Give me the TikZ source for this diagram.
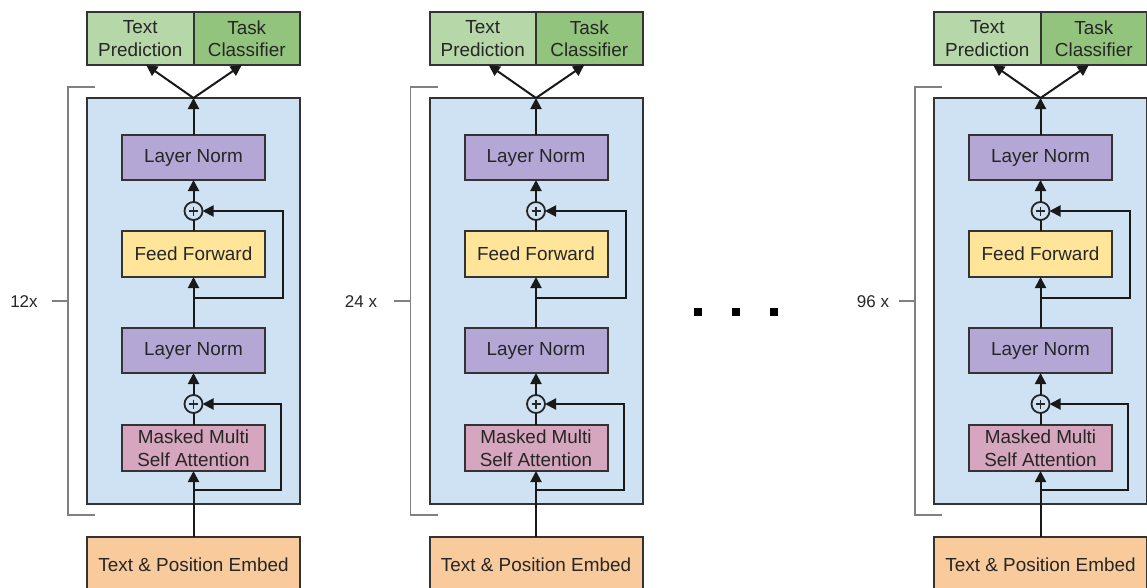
\documentclass[tikz,border=0pt]{standalone}
\usepackage{fontspec}
\setmainfont{Liberation Sans}
\usetikzlibrary{positioning, arrows.meta}
\definecolor{blockblue}{HTML}{CFE2F3}
\definecolor{predgreen}{HTML}{B6D7A8}
\definecolor{taskgreen}{HTML}{93C47D}
\definecolor{normpurple}{HTML}{B4A7D6}
\definecolor{ffyellow}{HTML}{FFE599}
\definecolor{attnpink}{HTML}{D5A6BD}
\definecolor{embedorange}{HTML}{F9CB9C}
\tikzstyle{box} = [rectangle, draw=black!80, line width=2pt, inner sep=0pt, outer sep=0pt, text=black!85, align=center, font=\fontsize{18.9}{22.5}\selectfont]
\tikzstyle{block} = [box, minimum width=213pt, minimum height=406pt, fill=blockblue]
\tikzstyle{predict} = [box, minimum width=106.5pt, minimum height=53pt, fill=predgreen]
\tikzstyle{classify} = [box, minimum width=106.5pt, minimum height=53pt, fill=taskgreen]
\tikzstyle{norm} = [box, minimum width=143pt, minimum height=45pt, fill=normpurple]
\tikzstyle{ffwd} = [box, minimum width=143pt, minimum height=46pt, fill=ffyellow]
\tikzstyle{attn} = [box, minimum width=143pt, minimum height=46pt, fill=attnpink]
\tikzstyle{embed} = [box, minimum width=213pt, minimum height=55pt, fill=embedorange]
\tikzstyle{plus} = [circle, draw=black!85, line width=1.8pt, minimum size=18pt, inner sep=0pt, outer sep=0pt,
  path picture={\draw[line width=1.5pt] ([yshift=-4.5pt]path picture bounding box.north) -- ([yshift=4.5pt]path picture bounding box.south);
                \draw[line width=1.5pt] ([xshift=4.5pt]path picture bounding box.west) -- ([xshift=-4.5pt]path picture bounding box.east);}]
\tikzstyle{arrow} = [line width=2pt, draw=black!90, -{Triangle[length=11pt, width=11pt]}]
\tikzstyle{link} = [line width=2pt, draw=black!90]
\tikzstyle{bracket} = [line width=1.2pt, draw=gray]
\tikzstyle{count} = [text=black!85, font=\fontsize{17}{20}\selectfont]
\tikzstyle{dotbox} = [rectangle, fill=black, minimum size=8pt, inner sep=0pt]

\begin{document}
\begin{tikzpicture}[x=1pt, y=1pt]

\useasboundingbox (0,0) rectangle (1147,-587);

% first column
\node (Ba) [block] at (193.5,-301) {};
\node (TPa) [predict, above left=33pt and 0pt of Ba.north] {Text\\Prediction};
\node (TCa) [classify, right=0pt of TPa] {Task\\Classifier};
\node (La1) [norm, below=37pt of Ba.north] {Layer Norm};
\node (Pa1) [plus, below=22pt of La1] {};
\node (Fa) [ffwd, below=11pt of Pa1] {Feed Forward};
\node (La2) [norm, below=51pt of Fa] {Layer Norm};
\node (Pa2) [plus, below=22pt of La2] {};
\node (Aa) [attn, below=12pt of Pa2] {Masked Multi\\Self Attention};
\node (Ea) [embed, below=66pt of Aa] {Text \& Position Embed};
\coordinate [below=21pt of Fa] (Sa1);
\coordinate [below=19pt of Aa] (Sa2);

\draw [arrow] (Ea) -- (Aa);
\draw [link] (Aa) -- (Pa2);
\draw [arrow] (Pa2) -- (La2);
\draw [arrow] (La2) -- (Fa);
\draw [link] (Fa) -- (Pa1);
\draw [arrow] (Pa1) -- (La1);
\draw [arrow] (La1) -- (Ba.north);
\draw [arrow] (Ba.north) -- ([xshift=6pt]TPa.south);
\draw [arrow] (Ba.north) -- ([xshift=-5pt]TCa.south);
\draw [arrow] (Sa1) -- ++(89.5,0) |- (Pa1.east);
\draw [arrow] (Sa2) -- ++(87.5,0) |- (Pa2.east);

\draw [bracket] (95,-87) -- (68,-87) -- (68,-515) -- (95,-515);
\draw [bracket] (68,-301) -- (52,-301);
\node (Na) [count] at (24,-302) {12x};

% second column
\node (Bb) [block] at (536,-301) {};
\node (TPb) [predict, above left=33pt and 0pt of Bb.north] {Text\\Prediction};
\node (TCb) [classify, right=0pt of TPb] {Task\\Classifier};
\node (Lb1) [norm, below=37pt of Bb.north] {Layer Norm};
\node (Pb1) [plus, below=22pt of Lb1] {};
\node (Fb) [ffwd, below=11pt of Pb1] {Feed Forward};
\node (Lb2) [norm, below=51pt of Fb] {Layer Norm};
\node (Pb2) [plus, below=22pt of Lb2] {};
\node (Ab) [attn, below=12pt of Pb2] {Masked Multi\\Self Attention};
\node (Eb) [embed, below=66pt of Ab] {Text \& Position Embed};
\coordinate [below=21pt of Fb] (Sb1);
\coordinate [below=19pt of Ab] (Sb2);

\draw [arrow] (Eb) -- (Ab);
\draw [link] (Ab) -- (Pb2);
\draw [arrow] (Pb2) -- (Lb2);
\draw [arrow] (Lb2) -- (Fb);
\draw [link] (Fb) -- (Pb1);
\draw [arrow] (Pb1) -- (Lb1);
\draw [arrow] (Lb1) -- (Bb.north);
\draw [arrow] (Bb.north) -- ([xshift=6pt]TPb.south);
\draw [arrow] (Bb.north) -- ([xshift=-5pt]TCb.south);
\draw [arrow] (Sb1) -- ++(89.5,0) |- (Pb1.east);
\draw [arrow] (Sb2) -- ++(87.5,0) |- (Pb2.east);

\draw [bracket] (437.5,-87) -- (410.5,-87) -- (410.5,-515) -- (437.5,-515);
\draw [bracket] (410.5,-301) -- (394,-301);
\node (Nb) [count] at (361,-302) {24 x};

% dots between the columns
\node (D1) [dotbox] at (698,-312) {};
\node (D2) [dotbox] at (736,-312) {};
\node (D3) [dotbox] at (774,-312) {};

% third column
\node (Bc) [block] at (1040.5,-301) {};
\node (TPc) [predict, above left=33pt and 0pt of Bc.north] {Text\\Prediction};
\node (TCc) [classify, right=0pt of TPc] {Task\\Classifier};
\node (Lc1) [norm, below=37pt of Bc.north] {Layer Norm};
\node (Pc1) [plus, below=22pt of Lc1] {};
\node (Fc) [ffwd, below=11pt of Pc1] {Feed Forward};
\node (Lc2) [norm, below=51pt of Fc] {Layer Norm};
\node (Pc2) [plus, below=22pt of Lc2] {};
\node (Ac) [attn, below=12pt of Pc2] {Masked Multi\\Self Attention};
\node (Ec) [embed, below=66pt of Ac] {Text \& Position Embed};
\coordinate [below=21pt of Fc] (Sc1);
\coordinate [below=19pt of Ac] (Sc2);

\draw [arrow] (Ec) -- (Ac);
\draw [link] (Ac) -- (Pc2);
\draw [arrow] (Pc2) -- (Lc2);
\draw [arrow] (Lc2) -- (Fc);
\draw [link] (Fc) -- (Pc1);
\draw [arrow] (Pc1) -- (Lc1);
\draw [arrow] (Lc1) -- (Bc.north);
\draw [arrow] (Bc.north) -- ([xshift=6pt]TPc.south);
\draw [arrow] (Bc.north) -- ([xshift=-5pt]TCc.south);
\draw [arrow] (Sc1) -- ++(89.5,0) |- (Pc1.east);
\draw [arrow] (Sc2) -- ++(87.5,0) |- (Pc2.east);

\draw [bracket] (942,-87) -- (915,-87) -- (915,-515) -- (942,-515);
\draw [bracket] (915,-301) -- (899,-301);
\node (Nc) [count] at (873,-302) {96 x};

\end{tikzpicture}
\end{document}
